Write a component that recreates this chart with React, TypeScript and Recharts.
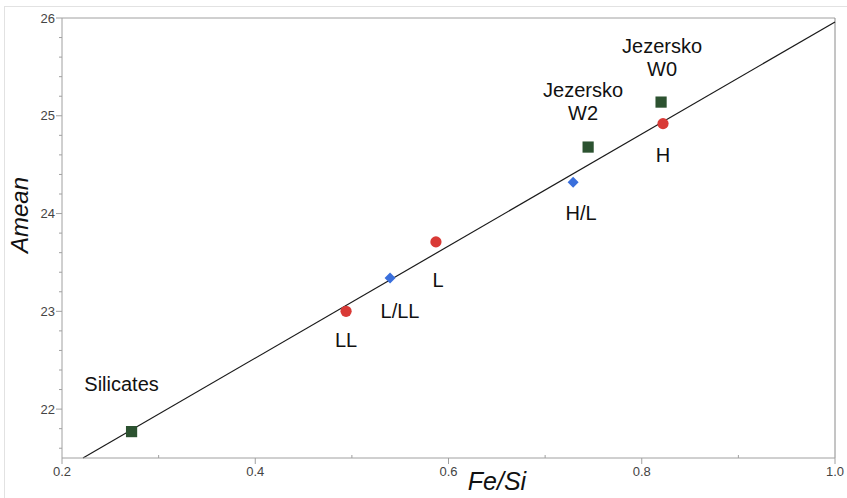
import React from 'react';
import { ScatterChart, Scatter, XAxis, YAxis, ReferenceLine } from 'recharts';

// Ordinary chondrites (red circles)
const chondriteNames = ['LL', 'L', 'H'];
const chondriteFeSi = [0.494, 0.587, 0.822];
const chondriteAmean = [23.0, 23.71, 24.92];

// Intermediate groups (blue diamonds)
const mixedNames = ['L/LL', 'H/L'];
const mixedFeSi = [0.5395, 0.729];
const mixedAmean = [23.34, 24.32];

// Silicates and Jezersko (green squares)
const squareNames = ['Silicates', 'Jezersko\nW2', 'Jezersko\nW0'];
const squareFeSi = [0.272, 0.7445, 0.82];
const squareAmean = [21.77, 24.68, 25.14];

// Regression line end points
const lineFeSi = [0.2217, 1.0];
const lineAmean = [21.5, 25.96];

// Axis ticks
const xTicks = [0.2, 0.3, 0.4, 0.5, 0.6, 0.7, 0.8, 0.9, 1.0];
const yTicks = [21.6, 21.8, 22, 22.2, 22.4, 22.6, 22.8, 23, 23.2, 23.4, 23.6, 23.8, 24, 24.2, 24.4, 24.6, 24.8, 25, 25.2, 25.4, 25.6, 25.8, 26];

const build = (names: string[], xs: number[], ys: number[]) =>
  names.map((n, i) => ({ name: n, x: xs[i], y: ys[i] }));

const chondrites = build(chondriteNames, chondriteFeSi, chondriteAmean);
const mixed = build(mixedNames, mixedFeSi, mixedAmean);
const squares = build(squareNames, squareFeSi, squareAmean);

// label offsets (style only)
const labelOffset: Record<string, [number, number]> = {
  Silicates: [-10, -48],
  LL: [0, 29],
  'L/LL': [10, 33],
  L: [2, 38],
  'H/L': [8, 31],
  'Jezersko\nW2': [-5, -57],
  'Jezersko\nW0': [1, -56],
  H: [0, 31],
};

const FONT = '"Liberation Sans", Arial, Helvetica, sans-serif';
const AXIS = '#a0a0a0';

const Label = ({ cx, cy, name }: any) => {
  const off = labelOffset[name] || [0, 0];
  const lines = String(name).split('\n');
  return (
    <g>
      {lines.map((ln, i) => (
        <text
          key={i}
          x={cx + off[0]}
          y={cy + off[1] + i * 23}
          textAnchor="middle"
          dominantBaseline="central"
          fontSize={20}
          fontFamily={FONT}
          fill="#111"
        >
          {ln}
        </text>
      ))}
    </g>
  );
};

const CircleShape = (props: any) => {
  const { cx, cy, payload } = props;
  return (
    <g>
      <circle cx={cx} cy={cy} r={5.6} fill="#d93a36" />
      <Label cx={cx} cy={cy} name={payload.name} />
    </g>
  );
};

const DiamondShape = (props: any) => {
  const { cx, cy, payload } = props;
  const s = 5.5;
  return (
    <g>
      <polygon points={`${cx},${cy - s} ${cx + s},${cy} ${cx},${cy + s} ${cx - s},${cy}`} fill="#3a6fdc" />
      <Label cx={cx} cy={cy} name={payload.name} />
    </g>
  );
};

const SquareShape = (props: any) => {
  const { cx, cy, payload } = props;
  const s = 5.6;
  return (
    <g>
      <rect x={cx - s} y={cy - s} width={2 * s} height={2 * s} fill="#2c5230" />
      <Label cx={cx} cy={cy} name={payload.name} />
    </g>
  );
};

const isMajor = (v: number, step: number) => Math.abs(v / step - Math.round(v / step)) < 1e-6;

const YTick = (props: any) => {
  const { x, y, payload } = props;
  const v = payload.value as number;
  const major = isMajor(v, 1);
  return (
    <g>
      <line x1={x} x2={x - (major ? 6 : 3)} y1={y} y2={y} stroke={AXIS} strokeWidth={1} />
      {major && (
        <text x={x - 7} y={y} textAnchor="end" dominantBaseline="central" fontSize={13} fontFamily={FONT} fill="#444">
          {v}
        </text>
      )}
    </g>
  );
};

const XTick = (props: any) => {
  const { x, y, payload } = props;
  const v = payload.value as number;
  const major = isMajor(v, 0.2);
  return (
    <g>
      {major ? (
        <line x1={x} x2={x} y1={y} y2={y + 6} stroke={AXIS} strokeWidth={1} />
      ) : (
        <line x1={x} x2={x} y1={y} y2={y - 3} stroke={AXIS} strokeWidth={1} />
      )}
      {major && (
        <text x={x} y={y + 13} textAnchor="middle" dominantBaseline="central" fontSize={13} fontFamily={FONT} fill="#444">
          {v.toFixed(1)}
        </text>
      )}
    </g>
  );
};

export default function App() {
  return (
    <div style={{ position: 'absolute', left: 0, top: 0, width: 847, height: 498, background: '#fff', overflow: 'hidden' }}>
      <div
        style={{
          position: 'absolute',
          left: 4,
          top: 6,
          width: 900,
          height: 600,
          borderLeft: '1px solid #e2e2e2',
          borderTop: '1px solid #e2e2e2',
        }}
      />
      <div style={{ position: 'absolute', left: 0, top: 0 }}>
        <ScatterChart width={847} height={498} margin={{ top: 18, right: 12, left: 0, bottom: 0 }}>
          <XAxis
            type="number"
            dataKey="x"
            domain={[0.2, 1.0]}
            ticks={xTicks}
            interval={0}
            tick={<XTick />}
            tickLine={false}
            tickSize={0}
            tickMargin={0}
            axisLine={{ stroke: AXIS }}
            height={40}
            allowDataOverflow
          />
          <YAxis
            type="number"
            dataKey="y"
            domain={[21.5, 26]}
            ticks={yTicks}
            interval={0}
            tick={<YTick />}
            tickLine={false}
            tickSize={0}
            tickMargin={0}
            axisLine={{ stroke: AXIS }}
            width={62}
            allowDataOverflow
          />
          <ReferenceLine y={26} stroke={AXIS} ifOverflow="visible" />
          <ReferenceLine x={1.0} stroke="#8a8a8a" ifOverflow="visible" />
          <ReferenceLine
            segment={[
              { x: lineFeSi[0], y: lineAmean[0] },
              { x: lineFeSi[1], y: lineAmean[1] },
            ]}
            stroke="#1a1a1a"
            strokeWidth={1.2}
            ifOverflow="visible"
          />
          <Scatter data={squares} shape={<SquareShape />} isAnimationActive={false} />
          <Scatter data={chondrites} shape={<CircleShape />} isAnimationActive={false} />
          <Scatter data={mixed} shape={<DiamondShape />} isAnimationActive={false} />
        </ScatterChart>
      </div>
      <div
        style={{
          position: 'absolute',
          left: 20,
          top: 215,
          transform: 'translate(-50%, -50%) rotate(-90deg)',
          fontFamily: FONT,
          fontStyle: 'italic',
          fontSize: 24,
          color: '#111',
          whiteSpace: 'nowrap',
          lineHeight: 1,
        }}
      >
        Amean
      </div>
      <div
        style={{
          position: 'absolute',
          left: 497,
          top: 481,
          transform: 'translate(-50%, -50%)',
          fontFamily: FONT,
          fontStyle: 'italic',
          fontSize: 25,
          color: '#111',
          whiteSpace: 'nowrap',
          lineHeight: 1,
        }}
      >
        Fe/Si
      </div>
    </div>
  );
}
